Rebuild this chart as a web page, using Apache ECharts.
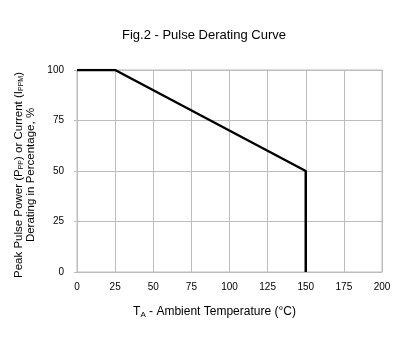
<!DOCTYPE html>
<html><head><meta charset="utf-8">
<script src="https://cdn.jsdelivr.net/npm/echarts@6/dist/echarts.min.js"></script>
<style>html,body{margin:0;padding:0;background:#fff}#c{width:408px;height:354px}</style>
</head><body><div id="c"></div>
<script>
const temps = [0, 25, 150, 150];
const derating = [100, 100, 50, 0];
const xTicks = [0, 25, 50, 75, 100, 125, 150, 175, 200];
const yTicks = [0, 25, 50, 75, 100];
const titleText = 'Fig.2 - Pulse Derating Curve';

const F = 'Liberation Sans, Arial, sans-serif';
const chart = echarts.init(document.getElementById('c'));
chart.setOption({
  animation: false,
  title: {text: titleText, left: 'center', top: 24, textStyle: {fontFamily: F, fontSize: 13, fontWeight: 'normal', color: '#000'}},
  grid: {left: 77, right: 26, top: 70, bottom: 82, show: true, borderColor: '#bdbdbd', borderWidth: 1},
  xAxis: {
    type: 'value', min: xTicks[0], max: xTicks[xTicks.length-1], interval: 25,
    axisLine: {show: true, lineStyle: {color: '#bdbdbd'}},
    axisTick: {show: false},
    axisLabel: {fontFamily: F, fontSize: 10, color: '#000', margin: 10},
    splitLine: {show: true, lineStyle: {color: '#bdbdbd'}},
    name: '{n|T}{s|A}{n| - Ambient Temperature (°C)}',
    nameLocation: 'middle', nameGap: 33,
    nameTextStyle: {padding: [0, 30, 0, 0], rich: {
      n: {fontFamily: F, fontSize: 12, color: '#000'},
      s: {fontFamily: F, fontSize: 8, color: '#000', verticalAlign: 'bottom', padding: [6,0,0,0]}
    }}
  },
  yAxis: {
    type: 'value', min: yTicks[0], max: yTicks[yTicks.length-1], interval: 25,
    axisLine: {show: true, lineStyle: {color: '#bdbdbd'}},
    axisTick: {show: true, length: 3, lineStyle: {color: '#bdbdbd'}},
    axisLabel: {fontFamily: F, fontSize: 10, color: '#000', margin: 13},
    splitLine: {show: true, lineStyle: {color: '#bdbdbd'}},
    name: '{n|Peak Pulse Power (P}{s|PP}{n|) or Current (I}{s|PPM}{n|)}\n{n|Derating in Percentage, %}',
    nameLocation: 'middle', nameRotate: 90, nameGap: 35,
    nameTextStyle: {lineHeight: 12, padding: [0, 8, 0, 0], rich: {
      n: {fontFamily: F, fontSize: 11.5, color: '#000', lineHeight: 12},
      s: {fontFamily: F, fontSize: 7, color: '#000', lineHeight: 12, verticalAlign: 'bottom'}
    }}
  },
  series: [{
    type: 'line', data: temps.map((t, i) => [t, derating[i]]),
    symbol: 'none', lineStyle: {color: '#000', width: 2.5}
  }]
});
</script></body></html>
